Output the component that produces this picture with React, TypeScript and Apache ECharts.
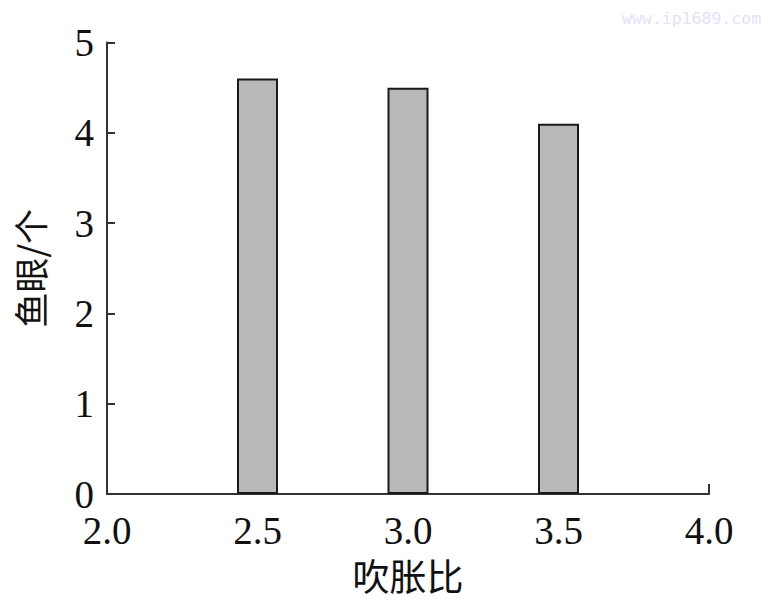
import React, { useEffect, useRef } from "react";
import * as echarts from "echarts";

const xTicks = [2.0, 2.5, 3.0, 3.5, 4.0];
const blowRatios = [2.5, 3.0, 3.5];
const fishEyes = [4.6, 4.5, 4.1];
const xName = "吹胀比";
const yName = "鱼眼/个";
const watermark = "www.ip1689.com";

export default function App() {
  const ref = useRef<HTMLDivElement>(null);
  useEffect(() => {
    if (!ref.current) return;
    const chart = echarts.init(ref.current, undefined, { renderer: "svg" });
    const axisColor = "#333";
    const labelFont = {
      fontFamily: "Liberation Serif",
      fontSize: 39,
      lineHeight: 32,
      color: "#111",
    };
    chart.setOption({
      animation: false,
      backgroundColor: "#fff",
      grid: { left: 107, right: 63, top: 42.5, bottom: 119 },
      graphic: [
        {
          type: "text",
          left: 622,
          top: 10,
          style: {
            text: watermark,
            fontFamily: "DejaVu Sans Mono",
            fontSize: 16.5,
            fill: "#e2e2f8",
          },
        },
      ],
      xAxis: {
        type: "value",
        min: xTicks[0],
        max: xTicks[xTicks.length - 1],
        interval: 0.5,
        name: xName,
        nameLocation: "middle",
        nameGap: 62,
        nameTextStyle: {
          fontFamily: "Noto Sans CJK SC",
          fontSize: 37,
          color: "#111",
        },
        axisLine: { show: true, lineStyle: { color: axisColor, width: 2 } },
        axisTick: { show: true, inside: true, length: 10, lineStyle: { color: axisColor, width: 2 } },
        axisLabel: {
          ...labelFont,
          margin: 20,
          formatter: (v: number) => v.toFixed(1),
        },
        splitLine: { show: false },
      },
      yAxis: {
        type: "value",
        min: 0,
        max: 5,
        interval: 1,
        name: yName,
        nameLocation: "middle",
        nameGap: 60,
        nameRotate: 90,
        nameTextStyle: {
          fontFamily: "Noto Sans CJK SC",
          fontSize: 35,
          color: "#111",
        },
        axisLine: { show: true, lineStyle: { color: axisColor, width: 2 } },
        axisTick: { show: true, inside: true, length: 8, lineStyle: { color: axisColor, width: 2 } },
        axisLabel: { ...labelFont, margin: 13 },
        splitLine: { show: false },
      },
      series: [
        {
          type: "bar",
          barWidth: 41,
          data: blowRatios.map((x, i) => [x, fishEyes[i]]),
          itemStyle: { color: "#b9b9b9", borderColor: "#1a1a1a", borderWidth: 2 },
          z: 1,
        },
      ],
    });
    return () => chart.dispose();
  }, []);
  return <div ref={ref} style={{ width: 772, height: 613, position: "absolute", left: 0, top: 0 }} />;
}
